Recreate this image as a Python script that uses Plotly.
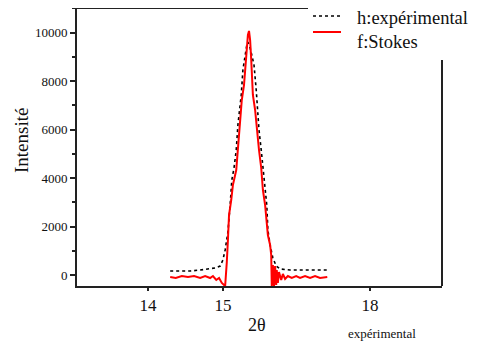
import plotly.graph_objects as go

# h: experimental profile (2theta, intensity)
exp_2theta = [14.40, 14.58, 14.76, 14.94, 15.12, 15.21, 15.30, 15.35, 15.39, 15.44,
              15.48, 15.51, 15.55, 15.59, 15.62, 15.66, 15.68, 15.71, 15.75, 15.78,
              15.80, 15.84, 15.87, 15.91, 15.95, 15.96, 16.00, 16.04, 16.07, 16.11,
              16.14, 16.16, 16.20, 16.25, 16.31, 16.38, 16.56, 16.74, 16.92, 17.10, 17.23]
exp_int = [165, 165, 165, 206, 247, 289, 371, 619, 1031, 1773,
           2887, 3918, 4413, 5155, 6186, 7010, 7423, 8454, 9073, 9485,
           9608, 9361, 9073, 8660, 7629, 7216, 5979, 5155, 4536, 3711,
           2887, 1856, 1237, 701, 371, 247, 206, 206, 206, 206, 206]

# f: Stokes corrected profile
stokes_2theta = [14.40, 14.50, 14.61, 14.72, 14.83, 14.94, 15.03, 15.12, 15.17, 15.23,
                 15.28, 15.33, 15.39, 15.41, 15.42, 15.44, 15.46, 15.50, 15.53, 15.59,
                 15.62, 15.66, 15.69, 15.73, 15.75, 15.77, 15.78, 15.80, 15.82, 15.84,
                 15.86, 15.87, 15.89, 15.93, 15.96, 16.00, 16.04, 16.07, 16.11, 16.14,
                 16.16, 16.20, 16.22, 16.23, 16.25, 16.27, 16.29, 16.31, 16.32, 16.34,
                 16.36, 16.40, 16.43, 16.47, 16.52, 16.59, 16.67, 16.74, 16.83, 16.92,
                 17.01, 17.10, 17.23]
stokes_int = [-82, -124, -41, -82, -41, -124, -41, -124, -41, -206,
              -124, -330, -454, 0, 536, 1443, 2474, 3093, 3712, 4330,
              5155, 6392, 7217, 7836, 8454, 8867, 9485, 9898, 10063, 9691,
              8867, 8042, 7423, 6805, 5980, 5155, 4413, 3505, 2887, 2062,
              1650, 1237, 825, -454, 412, -495, 371, -412, 206, -330,
              124, -206, 41, -165, -41, -124, -41, -124, -41, -124,
              -41, -124, -82]

y_ticks = [0, 2000, 4000, 6000, 8000, 10000]
x_tickvals = [14, 15.35, 18]
x_ticktext = ["14", "15", "18"]

FONT = "Liberation Serif, Times New Roman, DejaVu Serif, serif"
AX = "#222222"
TXT = "#111111"

# the page body adds 8px of margin, so the figure is shrunk by that much
W, H = 472, 333
L, R, T, B = 69, 38, 0, 55
PW, PH = W - L - R, H - T - B

fig = go.Figure()
fig.add_trace(go.Scatter(x=exp_2theta, y=exp_int, mode="lines",
                         line=dict(color="black", width=1.6, dash="dot"),
                         name="h:expérimental", showlegend=False))
fig.add_trace(go.Scatter(x=stokes_2theta, y=stokes_int, mode="lines",
                         line=dict(color="#ff0000", width=2),
                         name="f:Stokes", showlegend=False))

fig.update_layout(
    width=W, height=H,
    margin=dict(l=L, r=R, t=T, b=B),
    paper_bgcolor="white", plot_bgcolor="white",
    font=dict(family=FONT, color=TXT),
    xaxis=dict(range=[12.721, 19.297], showgrid=False, zeroline=False,
               showline=True, linecolor=AX, linewidth=2,
               ticks="outside", ticklen=3, tickwidth=2, tickcolor=AX,
               tickvals=x_tickvals, ticktext=x_ticktext,
               tickfont=dict(family=FONT, size=17, color=TXT)),
    yaxis=dict(range=[-454, 11011], showgrid=False, zeroline=False,
               showline=True, linecolor=AX, linewidth=2,
               ticks="outside", ticklen=5, tickwidth=2, tickcolor=AX,
               tickvals=y_ticks, tickformat="d",
               minor=dict(dtick=1000, tick0=0, ticks="outside", ticklen=3,
                          tickwidth=2, tickcolor=AX),
               tickfont=dict(family=FONT, size=13, color=TXT)),
)

# partial frame: top and right borders
fig.add_shape(type="line", xref="paper", yref="paper", x0=0, x1=231 / PW, y0=1, y1=1,
              line=dict(color=AX, width=2))
fig.add_shape(type="line", xref="paper", yref="paper", x0=1, x1=1, y0=0, y1=226 / PH,
              line=dict(color=AX, width=2))

# legend drawn by hand (offsets in px from the plot's top-left corner)
fig.add_shape(type="line", xref="paper", yref="paper", x0=236 / PW, x1=263 / PW,
              y0=1 - 8 / PH, y1=1 - 8 / PH,
              line=dict(color="black", width=1.6, dash="dot"))
fig.add_shape(type="line", xref="paper", yref="paper", x0=236 / PW, x1=264 / PW,
              y0=1 - 24 / PH, y1=1 - 24 / PH,
              line=dict(color="#ff0000", width=2))
fig.add_annotation(text="h:expérimental", xref="paper", yref="paper",
                   x=278 / PW, y=1 - 10 / PH, xanchor="left", yanchor="middle",
                   showarrow=False, font=dict(family=FONT, size=18.5, color=TXT))
fig.add_annotation(text="f:Stokes", xref="paper", yref="paper",
                   x=278 / PW, y=1 - 34 / PH, xanchor="left", yanchor="middle",
                   showarrow=False, font=dict(family=FONT, size=18.5, color=TXT))

# axis titles
fig.add_annotation(text="Intensité", xref="paper", yref="paper",
                   x=-56 / PW, y=1 - 133 / PH, xanchor="center", yanchor="middle",
                   textangle=-90, showarrow=False,
                   font=dict(family=FONT, size=19, color=TXT))
fig.add_annotation(text="2θ", xref="paper", yref="paper",
                   x=180 / PW, y=-39 / PH, xanchor="center", yanchor="middle",
                   showarrow=False, font=dict(family=FONT, size=18, color=TXT))
fig.add_annotation(text="expérimental", xref="paper", yref="paper",
                   x=305 / PW, y=-47 / PH, xanchor="center", yanchor="middle",
                   showarrow=False, font=dict(family=FONT, size=13, color=TXT))

fig.write_html("out.html")
